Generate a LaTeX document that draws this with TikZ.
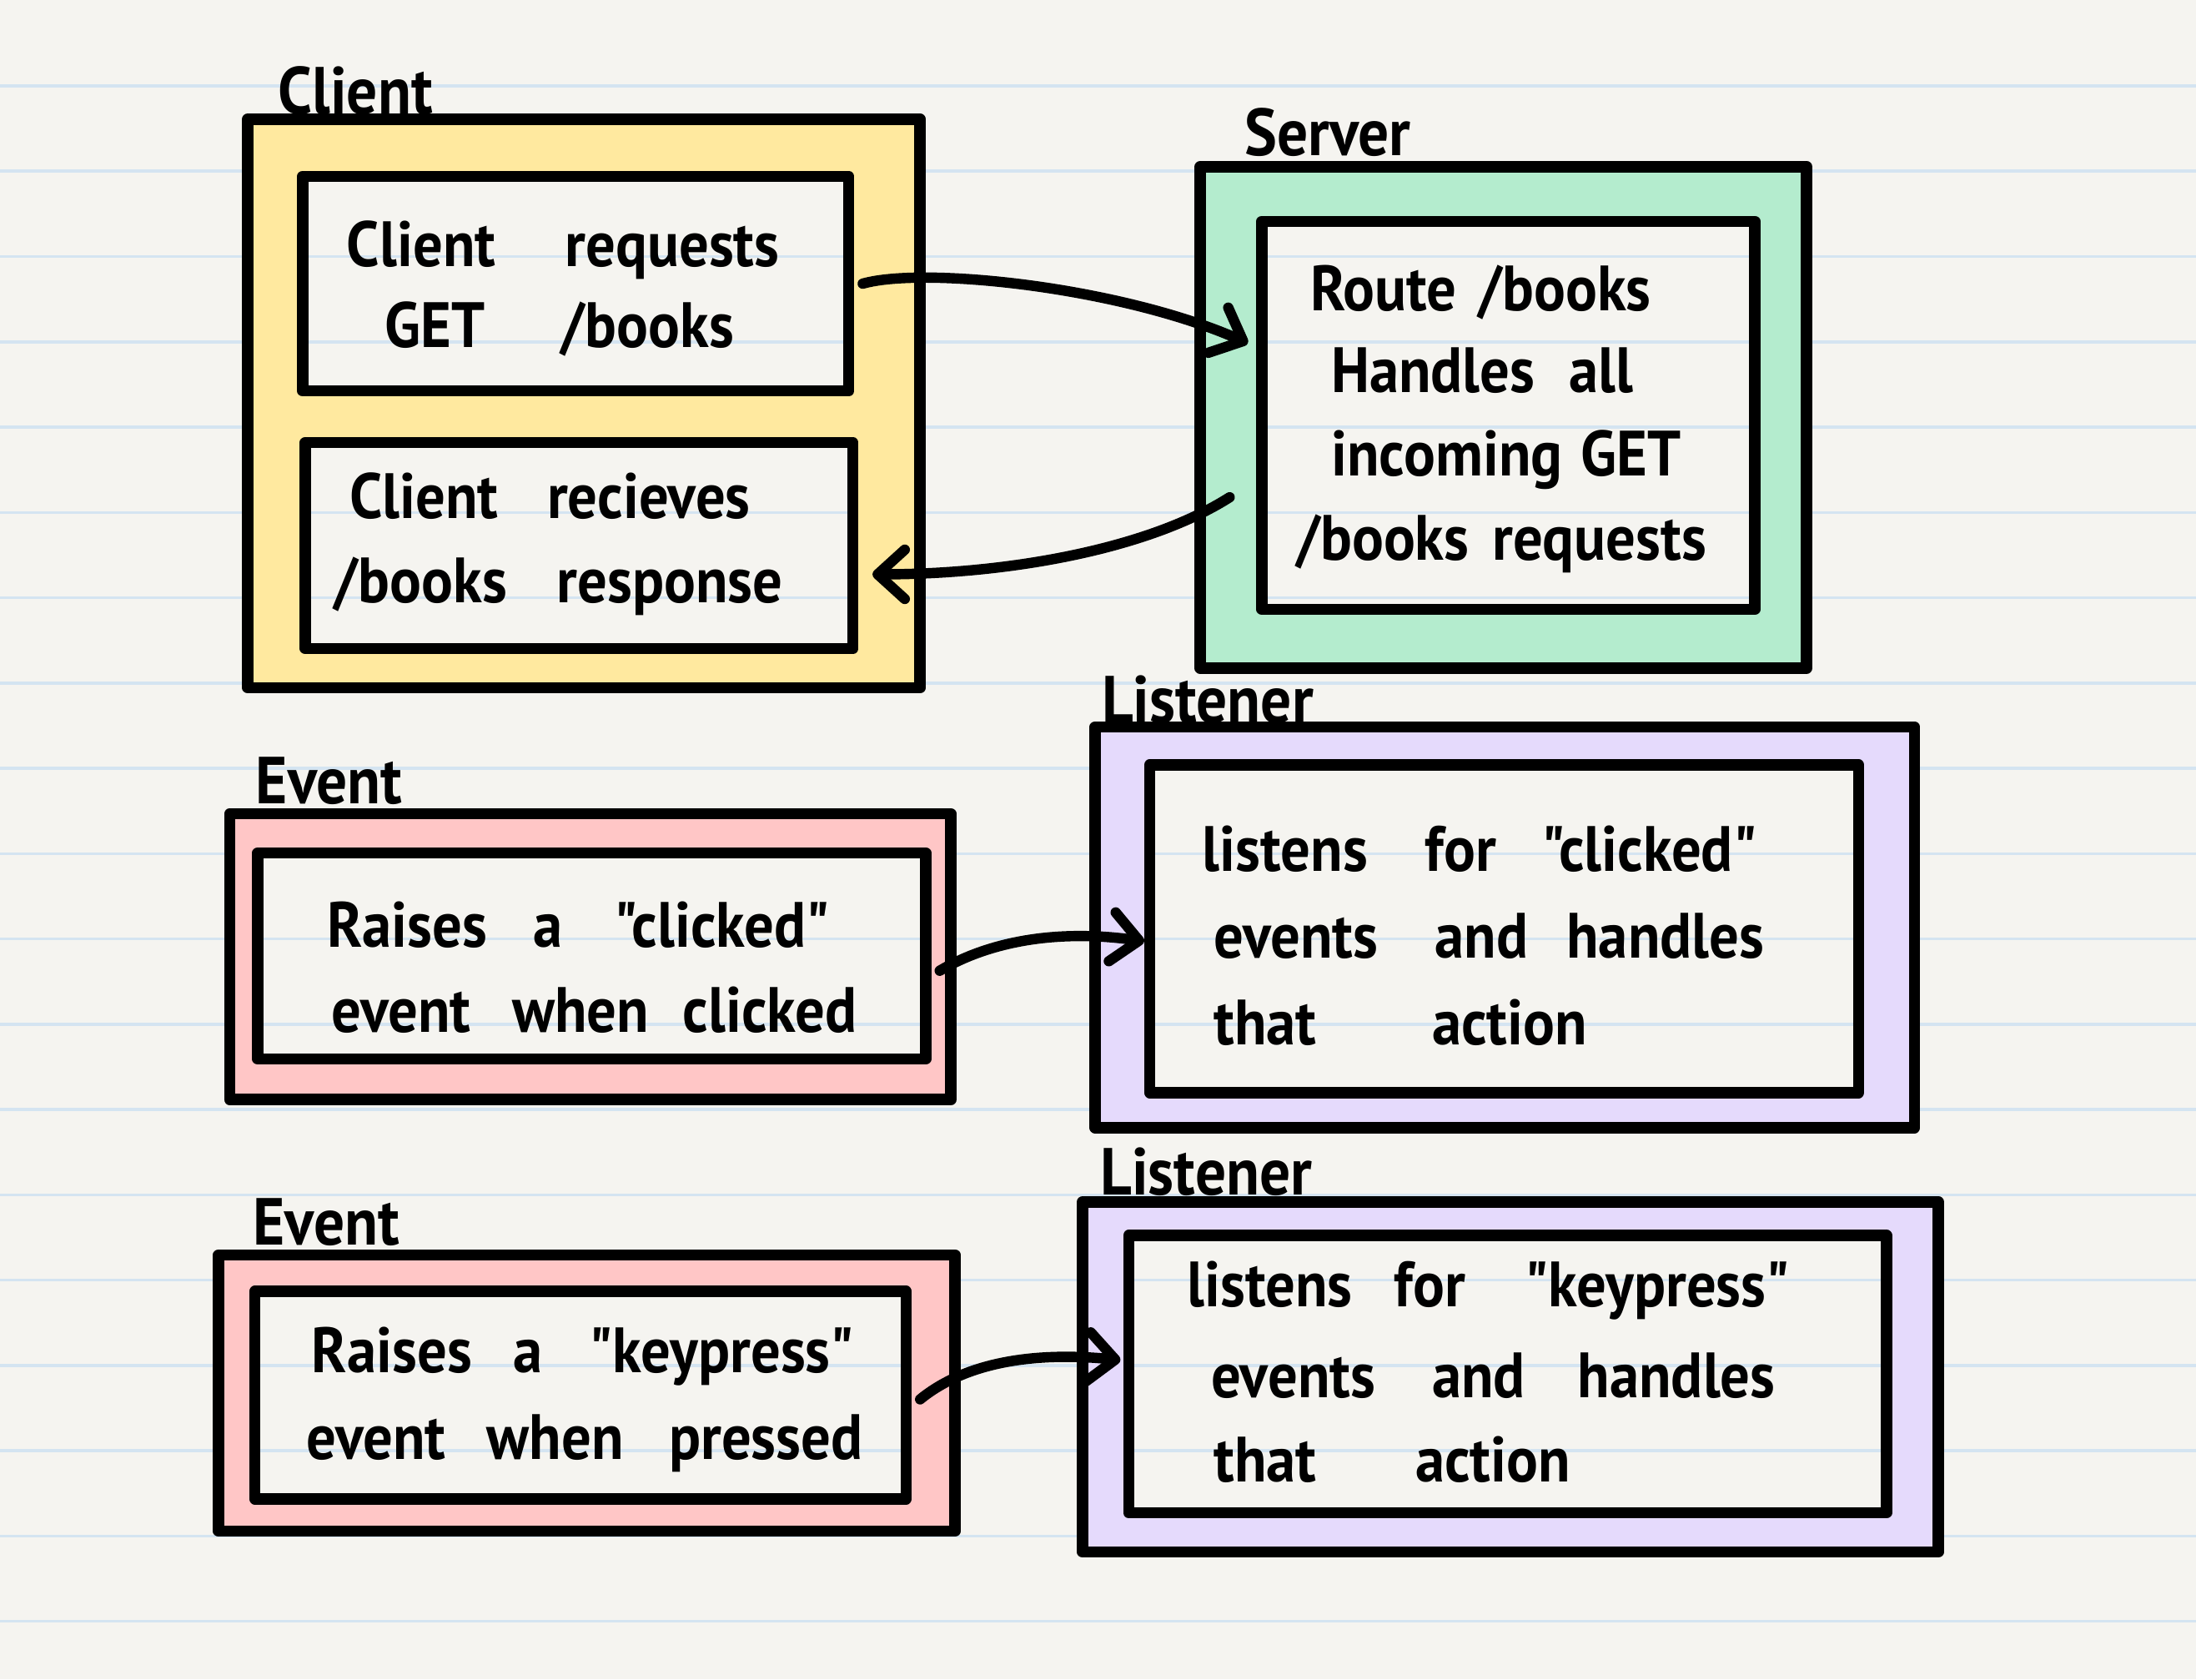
\documentclass[tikz,border=0pt]{standalone}
\usepackage{fontspec}
\setmainfont{PT Sans}[FakeStretch=0.92, Ligatures=TeXOff]
\usetikzlibrary{fit,arrows.meta}
\definecolor{paper}{HTML}{F5F4F0}
\definecolor{ruleblue}{HTML}{D4E4F1}
\definecolor{clientfill}{HTML}{FFE99F}
\definecolor{serverfill}{HTML}{B4ECCE}
\definecolor{listenfill}{HTML}{E5DAFC}
\definecolor{eventfill}{HTML}{FFC6C6}
\newlength\pxu \setlength\pxu{0.01cm}
\newcommand\wbox[2]{\makebox[#1\pxu][l]{#2}}
\pgfdeclarelayer{paperlayer}\pgfdeclarelayer{filllayer}
\pgfsetlayers{paperlayer,filllayer,main}
\begin{document}
\begin{tikzpicture}[x=0.01cm,y=-0.01cm,
  frame/.style={draw=black, line width=2.3pt, line join=round, line cap=round, inner sep=0pt, outer sep=0pt, rectangle},
  txt/.style={font=\fontsize{13}{15}\selectfont\bfseries, inner sep=0pt, anchor=base west},
  lbl/.style={font=\fontsize{13.5}{16}\selectfont\bfseries, inner sep=0pt, anchor=base west},
  flow/.style={line width=2.1pt, line cap=round, -{Straight Barb[length=5.5pt,width=10pt,round]}}]
\useasboundingbox (0,0) rectangle (1568,1199);
\begin{pgfonlayer}{paperlayer}
\fill[paper] (0,0) rectangle (1568,1199);
\foreach \k in {0,...,18}{\pgfmathsetmacro\yy{61.3+60.9*\k}\draw[ruleblue, line width=0.6pt] (0,\yy) -- (1568,\yy);}
\end{pgfonlayer}

% boxes
\node[frame, fit={(177,85) (657,491)}] (clientout) {};
\node[frame, fit={(216,126) (606,279)}] (clientreq) {};
\node[frame, fit={(218,316) (609,463)}] (clientrec) {};
\node[frame, fit={(857,119) (1290,477)}] (serverout) {};
\node[frame, fit={(901,158) (1253,435)}] (serverin) {};
\node[frame, fit={(782,519) (1367,805)}] (listenAout) {};
\node[frame, fit={(821,546) (1327,780)}] (listenAin) {};
\node[frame, fit={(164,581) (679,785)}] (eventAout) {};
\node[frame, fit={(184,609) (661,756)}] (eventAin) {};
\node[frame, fit={(773,858) (1384,1108)}] (listenBout) {};
\node[frame, fit={(806,882) (1347,1080)}] (listenBin) {};
\node[frame, fit={(156,896) (682,1093)}] (eventBout) {};
\node[frame, fit={(182,922) (647,1070)}] (eventBin) {};

\begin{pgfonlayer}{filllayer}
\fill[clientfill, even odd rule] (clientout.north west) rectangle (clientout.south east)
  (clientreq.north west) rectangle (clientreq.south east)
  (clientrec.north west) rectangle (clientrec.south east);
\fill[serverfill, even odd rule] (serverout.north west) rectangle (serverout.south east)
  (serverin.north west) rectangle (serverin.south east);
\fill[listenfill, even odd rule] (listenAout.north west) rectangle (listenAout.south east)
  (listenAin.north west) rectangle (listenAin.south east);
\fill[eventfill, even odd rule] (eventAout.north west) rectangle (eventAout.south east)
  (eventAin.north west) rectangle (eventAin.south east);
\fill[listenfill, even odd rule] (listenBout.north west) rectangle (listenBout.south east)
  (listenBin.north west) rectangle (listenBin.south east);
\fill[eventfill, even odd rule] (eventBout.north west) rectangle (eventBout.south east)
  (eventBin.north west) rectangle (eventBin.south east);
\end{pgfonlayer}

% labels
\node[lbl] (lclient) at (198,81) {Client};
\node[lbl] (lserver) at (888,111) {Server};
\node[lbl] (llistenA) at (786,516) {Listener};
\node[lbl] (leventA) at (182,574) {Event};
\node[lbl] (llistenB) at (785,853) {Listener};
\node[lbl] (leventB) at (180,889) {Event};

% texts
\node[txt] (t1a) at (247,190) {\wbox{156}{Client}requests};
\node[txt] (t1b) at (274,248) {\wbox{126}{GET}/books};
\node[txt] (t2a) at (249,370) {\wbox{141}{Client}recieves};
\node[txt] (t2b) at (238,430) {\wbox{159}{/books}response};
\node[txt] (t3a) at (935,222) {\wbox{120}{Route}/books};
\node[txt] (t3b) at (950,280) {\wbox{170}{Handles}all};
\node[txt] (t3c) at (950,340) {\wbox{178}{incoming}GET};
\node[txt] (t3d) at (925,400) {\wbox{140}{/books}requests};
\node[txt] (t4a) at (233,676) {\wbox{147}{Raises}\wbox{58}{a}"clicked"};
\node[txt] (t4b) at (236,737) {\wbox{129}{event}\wbox{122}{when}clicked};
\node[txt] (t5a) at (858,622) {\wbox{159}{listens}\wbox{83}{for}"clicked"};
\node[txt] (t5b) at (866,684) {\wbox{158}{events}\wbox{94}{and}handles};
\node[txt] (t5c) at (866,746) {\wbox{156}{that}action};
\node[txt] (t6a) at (222,980) {\wbox{144}{Raises}\wbox{54}{a}"keypress"};
\node[txt] (t6b) at (218,1042) {\wbox{129}{event}\wbox{130}{when}pressed};
\node[txt] (t7a) at (847,933) {\wbox{148}{listens}\wbox{93}{for}"keypress"};
\node[txt] (t7b) at (864,998) {\wbox{158}{events}\wbox{104}{and}handles};
\node[txt] (t7c) at (866,1058) {\wbox{144}{that}action};

% connectors
\coordinate (a1s) at ([xshift=10\pxu]clientreq.east);
\coordinate (a1e) at (891,245);
\draw[flow] (a1s) .. controls (660,190) and (800,205) .. (a1e);
\coordinate (a2s) at (878,355);
\coordinate (a2e) at (623,410);
\draw[flow] (a2s) .. controls (820,392) and (720,410) .. (a2e);
\coordinate (a3s) at (671,693);
\coordinate (a3e) at (817,672);
\draw[flow] (a3s) .. controls (710,670) and (760,664) .. (a3e);
\coordinate (a4s) at (657,999);
\coordinate (a4e) at (800,971);
\draw[flow] (a4s) .. controls (690,972) and (740,965) .. (a4e);
\end{tikzpicture}
\end{document}
